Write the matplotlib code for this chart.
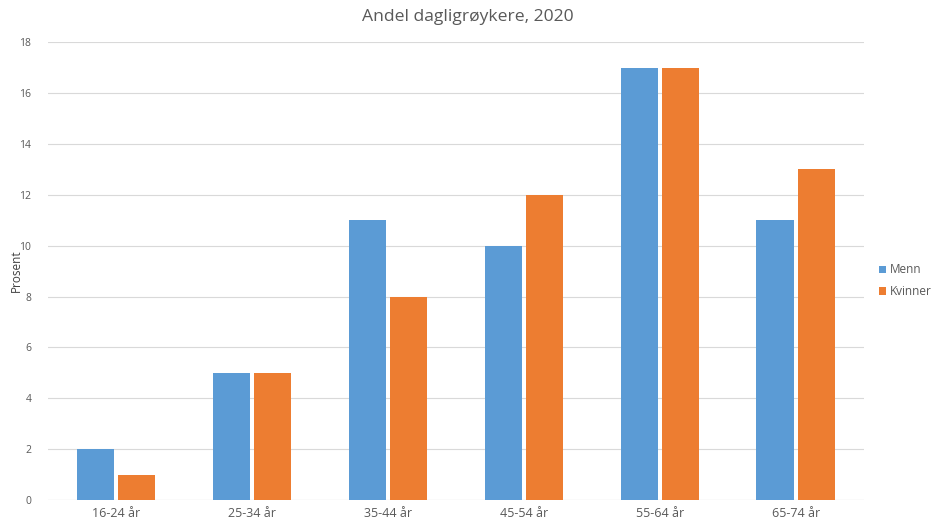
import matplotlib
matplotlib.use("Agg")
import matplotlib.pyplot as plt
import numpy as np

plt.rcParams['font.family'] = ['Open Sans', 'DejaVu Sans']

categories = ["16-24 år", "25-34 år", "35-44 år", "45-54 år", "55-64 år", "65-74 år"]
menn = [2, 5, 11, 10, 17, 11]
kvinner = [1, 5, 8, 12, 17, 13]
series_names = ["Menn", "Kvinner"]
colors = ["#5B9BD5", "#ED7D31"]

fig = plt.figure(figsize=(9.36, 5.28), dpi=100)
ax = fig.add_axes([0.0513, 0.053, 0.8717, 0.867])

x = np.arange(len(categories))
w = 0.275
gap = 0.015
ax.bar(x - w/2 - gap, menn, width=w, color=colors[0], label=series_names[0], zorder=3)
ax.bar(x + w/2 + gap, kvinner, width=w, color=colors[1], label=series_names[1], zorder=3)

ax.set_xlim(-0.5, len(categories) - 0.5)
ax.set_ylim(0, 18)
ax.set_yticks(np.arange(0, 19, 2))
ax.set_xticks(x)
ax.set_xticklabels(categories)
ax.grid(axis='y', color='#d9d9d9', linewidth=0.8, zorder=0)
for s in ax.spines.values():
    s.set_visible(False)
ax.axhline(0, color='#d9d9d9', linewidth=0.8, zorder=1)
ax.tick_params(axis='both', length=0, colors='#595959')
ax.tick_params(axis='y', labelsize=7.5, pad=12)
ax.tick_params(axis='x', labelsize=9, pad=5)
ax.set_ylabel("Prosent", fontsize=8.5, color='#404040')
ax.yaxis.set_label_coords(-0.031, 0.5)

fig.text(0.5, 0.967, "Andel dagligrøykere, 2020", ha='center', va='center',
         fontsize=12.6, color='#595959')

leg = fig.legend(loc='center left', bbox_to_anchor=(0.939, 0.468), frameon=False,
                 fontsize=8.5, handlelength=0.6, handleheight=0.6, handletextpad=0.35,
                 labelspacing=0.75, borderaxespad=0, borderpad=0)
for t in leg.get_texts():
    t.set_color('#595959')

fig.savefig("out.png", dpi=100)
